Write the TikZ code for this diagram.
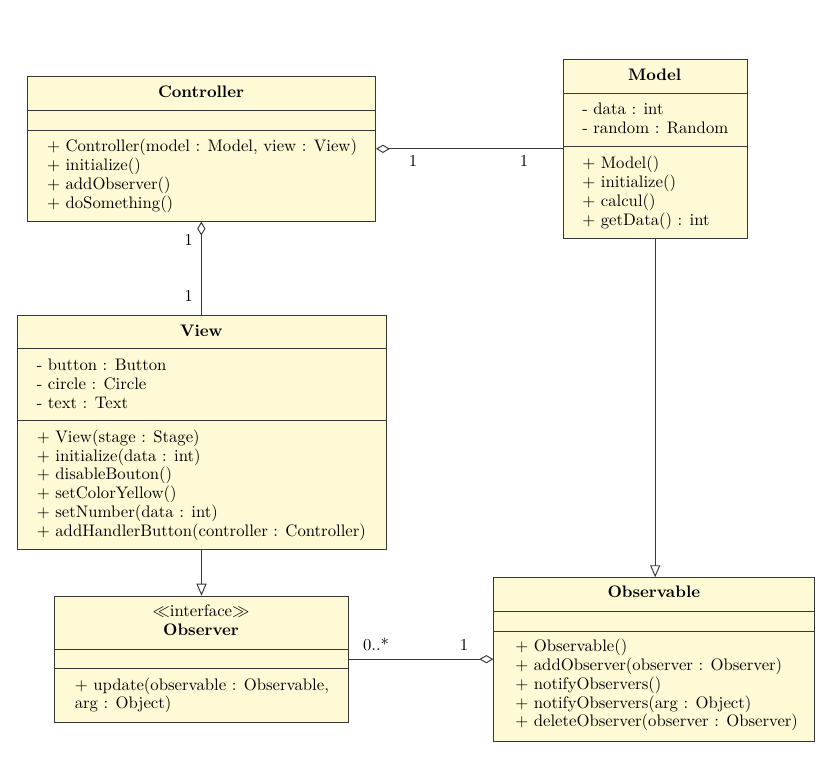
\documentclass[tikz,border=0pt]{standalone}
\usetikzlibrary{arrows.meta,calc}
\definecolor{umlfill}{RGB}{255,250,214}
\definecolor{umlline}{RGB}{55,55,55}
\begin{document}
\fontsize{10.55}{12.6}\selectfont
\begin{tikzpicture}[x=0.6316pt,y=-0.6316pt,
  classbox/.style={draw=umlline,fill=umlfill,line width=0.6pt,inner sep=0pt,anchor=north west},
  sep/.style={draw=umlline,line width=0.6pt},
  txt/.style={anchor=base west,inner sep=0pt},
  ttl/.style={anchor=base,inner sep=0pt,font=\bfseries},
  lbl/.style={anchor=base,inner sep=0pt},
  conn/.style={draw=umlline,line width=0.6pt},
  agg/.style={conn,{Diamond[open,length=8.8pt,width=5.2pt,line width=0.6pt]}-},
  aggr/.style={conn,-{Diamond[open,length=8.8pt,width=5.2pt,line width=0.6pt]}},
  inh/.style={conn,-{Triangle[open,length=7.6pt,width=6.4pt,line width=0.6pt]}}]
\useasboundingbox (0,0) rectangle (833,757);

% Controller
\node[classbox,minimum width=348.3*0.6316pt,minimum height=145*0.6316pt] (controller) at (26.7,75.7) {};
\draw[sep] (26.7,110.7) -- (375,110.7);
\draw[sep] (26.7,130.7) -- (375,130.7);
\node[ttl] (controllerT) at (201,97) {Controller};
\node[txt] (c1) at (46.7,151) {+ Controller(model : Model, view : View)};
\node[txt] (c2) at (46.7,170) {+ initialize()};
\node[txt] (c3) at (46.7,189) {+ addObserver()};
\node[txt] (c4) at (46.7,208) {+ doSomething()};

% Model
\node[classbox,minimum width=184*0.6316pt,minimum height=178.7*0.6316pt] (model) at (562.7,59) {};
\draw[sep] (562.7,93.3) -- (746.7,93.3);
\draw[sep] (562.7,146.7) -- (746.7,146.7);
\node[ttl] (modelT) at (654.7,80) {Model};
\node[txt] (m1) at (582,114.5) {- data : int};
\node[txt] (m2) at (582,133.5) {- random : Random};
\node[txt] (m3) at (582,168) {+ Model()};
\node[txt] (m4) at (582,187) {+ initialize()};
\node[txt] (m5) at (582,206) {+ calcul()};
\node[txt] (m6) at (582,225) {+ getData() : int};

% View
\node[classbox,minimum width=369.3*0.6316pt,minimum height=234.3*0.6316pt] (view) at (16.7,314.7) {};
\draw[sep] (16.7,348.3) -- (386,348.3);
\draw[sep] (16.7,420.7) -- (386,420.7);
\node[ttl] (viewT) at (201.3,336) {View};
\node[txt] (v1) at (36.5,370) {- button : Button};
\node[txt] (v2) at (36.5,389) {- circle : Circle};
\node[txt] (v3) at (36.5,408) {- text : Text};
\node[txt] (v4) at (36.5,442.5) {+ View(stage : Stage)};
\node[txt] (v5) at (36.5,461.2) {+ initialize(data : int)};
\node[txt] (v6) at (36.5,479.9) {+ disableBouton()};
\node[txt] (v7) at (36.5,498.6) {+ setColorYellow()};
\node[txt] (v8) at (36.5,517.3) {+ setNumber(data : int)};
\node[txt] (v9) at (36.5,536) {+ addHandlerButton(controller : Controller)};

% Observer
\node[classbox,minimum width=294*0.6316pt,minimum height=126*0.6316pt] (observer) at (54,595.7) {};
\draw[sep] (54,649.7) -- (348,649.7);
\draw[sep] (54,668.3) -- (348,668.3);
\node[lbl] (observerS) at (201,616.7) {$\ll$interface$\gg$};
\node[ttl] (observerT) at (201,635) {Observer};
\node[txt] (o1) at (74.5,690) {+ update(observable : Observable,};
\node[txt] (o2) at (74.5,708.5) {arg : Object)};

% Observable
\node[classbox,minimum width=321*0.6316pt,minimum height=163.7*0.6316pt] (observable) at (493.3,577.3) {};
\draw[sep] (493.3,611.7) -- (814.3,611.7);
\draw[sep] (493.3,631) -- (814.3,631);
\node[ttl] (observableT) at (653.8,597.3) {Observable};
\node[txt] (b1) at (515,651.7) {+ Observable()};
\node[txt] (b2) at (515,670.5) {+ addObserver(observer : Observer)};
\node[txt] (b3) at (515,689.3) {+ notifyObservers()};
\node[txt] (b4) at (515,708.1) {+ notifyObservers(arg : Object)};
\node[txt] (b5) at (515,726.9) {+ deleteObserver(observer : Observer)};

% Connectors
\draw[agg] (controller.east |- model.west) -- (model.west);
\node[lbl] (l1) at (413,166) {1};
\node[lbl] (l2) at (524,166) {1};

\draw[agg] (controller.south) -- (view.north -| controller.south);
\node[lbl] (l3) at (188.5,245) {1};
\node[lbl] (l4) at (188.5,301) {1};

\draw[inh] (model.south) -- (model.south |- observable.north);

\draw[inh] (view.south -| observer.north) -- (observer.north);

\draw[aggr] (observer.east) -- (observer.east -| observable.west);
\node[lbl] (l5) at (376,650.7) {0..*};
\node[lbl] (l6) at (464,650.7) {1};
\end{tikzpicture}
\end{document}
